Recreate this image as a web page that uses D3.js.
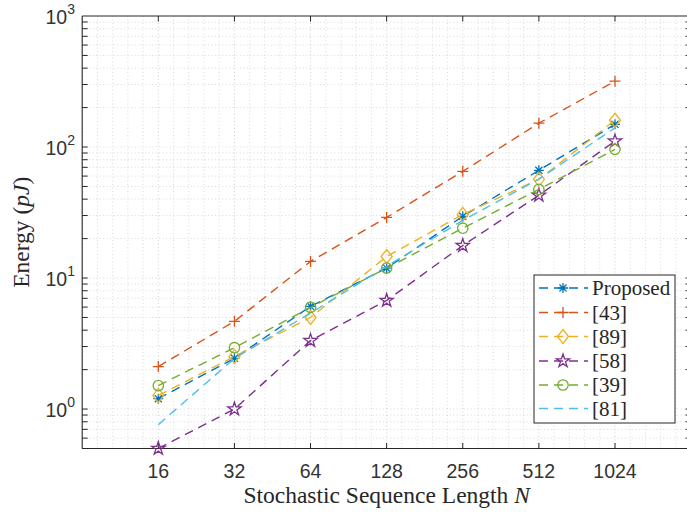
<!DOCTYPE html>
<html><head><meta charset="utf-8">
<script src="https://cdn.jsdelivr.net/npm/d3@7"></script>
<style>
html,body{margin:0;padding:0;background:#fff;}
svg{display:block;}
</style></head>
<body>
<svg id="chart" width="687" height="514"></svg>
<script>
// ---------- data ----------
const nValues = [16, 32, 64, 128, 256, 512, 1024];
const xTickLabels = ["16", "32", "64", "128", "256", "512", "1024"];
const yTickValues = [1, 10, 100, 1000];
const yTickExponents = ["0", "1", "2", "3"];
const seriesNames = ["Proposed", "[43]", "[89]", "[58]", "[39]", "[81]"];
const proposed = [1.20, 2.44, 6.08, 11.9, 29.6, 66.4, 149];
const ref43   = [2.11, 4.67, 13.4, 29.0, 65.2, 152, 318];
const ref89   = [1.27, 2.52, 5.00, 14.6, 30.6, 56.7, 160];
const ref58   = [0.50, 1.00, 3.33, 6.74, 17.7, 42.8, 111];
const ref39   = [1.51, 2.94, 5.97, 11.9, 24.0, 47.5, 96];
const ref81   = [0.76, 2.44, 5.40, 12.3, 27.5, 57.0, 140];
const seriesColors = ["#0072BD", "#D95319", "#EDB120", "#7E2F8E", "#77AC30", "#4DBEEE"];
const seriesMarkers = ["asterisk", "plus", "diamond", "star", "circle", "none"];

const allSeries = [proposed, ref43, ref89, ref58, ref39, ref81];

// ---------- layout ----------
const svg = d3.select("#chart");
const pL = 82.2, pR = 691.1, pT = 16, pB = 448.5;
const axisColor = "#262626";
const tickColor = "#333333";

const x = d3.scaleLinear().domain([3, 11]).range([pL, pR]);
const y = d3.scaleLog().domain([0.5, 1000]).range([pB, pT]);

svg.append("rect").attr("x", pL).attr("y", pT).attr("width", pR - pL).attr("height", pB - pT).attr("fill", "#fff");

// ---------- grid ----------
const grid = svg.append("g");
const xMinor = d3.range(3, 11.0001, 0.2).map(v => +v.toFixed(2));
xMinor.forEach(v => {
  const major = Math.abs(v - Math.round(v)) < 1e-6 && v >= 4 && v <= 10;
  grid.append("line")
    .attr("x1", x(v)).attr("x2", x(v)).attr("y1", pT).attr("y2", pB)
    .attr("stroke", major ? "#c8c8c8" : "#d6d6d6")
    .attr("stroke-width", 0.9)
    .attr("stroke-dasharray", "1,2.5");
});
const yMinor = [];
[0.1, 1, 10, 100].forEach(d => { for (let k = 1; k <= 9; k++) { const v = k * d; if (v >= 0.5 - 1e-9 && v <= 1000 + 1e-9) yMinor.push(v); } });
yMinor.forEach(v => {
  grid.append("line")
    .attr("x1", pL).attr("x2", pR).attr("y1", y(v)).attr("y2", y(v))
    .attr("stroke", "#d4d4d4")
    .attr("stroke-width", 0.9)
    .attr("stroke-dasharray", "1,2.5");
});

// ---------- axes ----------
const ax = svg.append("g");
ax.append("line").attr("x1", pL).attr("x2", pR).attr("y1", pB).attr("y2", pB).attr("stroke", axisColor).attr("stroke-width", 1.1);
ax.append("line").attr("x1", pL).attr("x2", pR).attr("y1", pT).attr("y2", pT).attr("stroke", axisColor).attr("stroke-width", 1.1);
ax.append("line").attr("x1", pL).attr("x2", pL).attr("y1", pT).attr("y2", pB).attr("stroke", axisColor).attr("stroke-width", 1.1);
ax.append("line").attr("x1", pR).attr("x2", pR).attr("y1", pT).attr("y2", pB).attr("stroke", axisColor).attr("stroke-width", 1.1);

const tickLen = 5.5;
const xLog = nValues.map(n => Math.log2(n));
xLog.forEach((v, i) => {
  ax.append("line").attr("x1", x(v)).attr("x2", x(v)).attr("y1", pB).attr("y2", pB - tickLen).attr("stroke", axisColor).attr("stroke-width", 1);
  ax.append("line").attr("x1", x(v)).attr("x2", x(v)).attr("y1", pT).attr("y2", pT + tickLen).attr("stroke", axisColor).attr("stroke-width", 1);
  ax.append("text").attr("x", x(v)).attr("y", 477.5)
    .attr("text-anchor", "middle")
    .attr("font-family", "'Liberation Sans', Arial, sans-serif")
    .attr("font-size", 19.5).attr("fill", tickColor)
    .text(xTickLabels[i]);
});
yMinor.forEach(v => {
  ax.append("line").attr("x1", pL).attr("x2", pL + tickLen).attr("y1", y(v)).attr("y2", y(v)).attr("stroke", axisColor).attr("stroke-width", 1);
  ax.append("line").attr("x1", pR).attr("x2", pR - tickLen).attr("y1", y(v)).attr("y2", y(v)).attr("stroke", axisColor).attr("stroke-width", 1);
});
yTickValues.forEach((v, i) => {
  const t = ax.append("text").attr("x", 75).attr("y", y(v) + 7.5)
    .attr("text-anchor", "end")
    .attr("font-family", "'Liberation Sans', Arial, sans-serif")
    .attr("font-size", 19.5).attr("fill", tickColor);
  t.append("tspan").text("10");
  t.append("tspan").attr("dy", -9.5).attr("font-size", 14).text(yTickExponents[i]);
});

const xl = svg.append("text").attr("x", (pL + pR) / 2).attr("y", 502.5)
  .attr("text-anchor", "middle")
  .attr("font-family", "'Liberation Serif', 'Times New Roman', serif")
  .attr("font-size", 23.5).attr("fill", axisColor);
xl.append("tspan").text("Stochastic Sequence Length ");
xl.append("tspan").attr("font-style", "italic").text("N");

const yl = svg.append("text")
  .attr("transform", `translate(29,${(pT + pB) / 2}) rotate(-90)`)
  .attr("text-anchor", "middle")
  .attr("font-family", "'Liberation Serif', 'Times New Roman', serif")
  .attr("font-size", 23.5).attr("fill", axisColor);
yl.append("tspan").text("Energy (");
yl.append("tspan").attr("font-style", "italic").text("pJ");
yl.append("tspan").text(")");

// ---------- markers ----------
function drawMarker(g, type, cx, cy, color) {
  const sw = 1.3;
  if (type === "asterisk") {
    const r = 5;
    const d = r * Math.SQRT1_2;
    g.append("path").attr("d",
      `M${cx - r},${cy}L${cx + r},${cy}M${cx},${cy - r}L${cx},${cy + r}` +
      `M${cx - d},${cy - d}L${cx + d},${cy + d}M${cx - d},${cy + d}L${cx + d},${cy - d}`)
      .attr("stroke", color).attr("stroke-width", sw).attr("fill", "none");
  } else if (type === "plus") {
    const r = 5.5;
    g.append("path").attr("d", `M${cx - r},${cy}L${cx + r},${cy}M${cx},${cy - r}L${cx},${cy + r}`)
      .attr("stroke", color).attr("stroke-width", sw).attr("fill", "none");
  } else if (type === "diamond") {
    const rx = 5.5, ry = 7;
    g.append("path").attr("d", `M${cx},${cy - ry}L${cx + rx},${cy}L${cx},${cy + ry}L${cx - rx},${cy}Z`)
      .attr("stroke", color).attr("stroke-width", sw).attr("fill", "none");
  } else if (type === "circle") {
    g.append("circle").attr("cx", cx).attr("cy", cy).attr("r", 5.2)
      .attr("stroke", color).attr("stroke-width", sw).attr("fill", "none");
  } else if (type === "star") {
    const R = 7, r = R * 0.382;
    const pts = [];
    for (let k = 0; k < 10; k++) {
      const a = -Math.PI / 2 + k * Math.PI / 5;
      const rr = k % 2 === 0 ? R : r;
      pts.push([cx + rr * Math.cos(a), cy + rr * Math.sin(a)]);
    }
    g.append("path").attr("d", "M" + pts.map(p => p.join(",")).join("L") + "Z")
      .attr("stroke", color).attr("stroke-width", sw).attr("fill", "none");
  }
}

// ---------- series ----------
const line = d3.line().x(d => x(d[0])).y(d => y(d[1]));
const plot = svg.append("g");
allSeries.forEach((vals, si) => {
  const pts = vals.map((v, i) => [xLog[i], v]);
  const g = plot.append("g");
  g.append("path").attr("d", line(pts))
    .attr("fill", "none").attr("stroke", seriesColors[si])
    .attr("stroke-width", 1.4).attr("stroke-dasharray", "9,6");
  pts.forEach(p => drawMarker(g, seriesMarkers[si], x(p[0]), y(p[1]), seriesColors[si]));
});

// ---------- legend ----------
const lg = svg.append("g");
const lx = 534, ly = 275, lw = 141, lh = 148;
lg.append("rect").attr("x", lx).attr("y", ly).attr("width", lw).attr("height", lh)
  .attr("fill", "#fff").attr("stroke", axisColor).attr("stroke-width", 1);
const rowY = [288, 312.5, 336.5, 361, 385, 408.5];
seriesNames.forEach((name, i) => {
  const yy = rowY[i];
  lg.append("line").attr("x1", 539).attr("x2", 588).attr("y1", yy).attr("y2", yy)
    .attr("stroke", seriesColors[i]).attr("stroke-width", 1.4).attr("stroke-dasharray", "9,6");
  drawMarker(lg, seriesMarkers[i], 563, yy, seriesColors[i]);
  lg.append("text").attr("x", 592).attr("y", yy + 7)
    .attr("font-family", "'Liberation Serif', 'Times New Roman', serif")
    .attr("font-size", 21).attr("fill", axisColor)
    .text(name);
});
</script>
</body></html>
